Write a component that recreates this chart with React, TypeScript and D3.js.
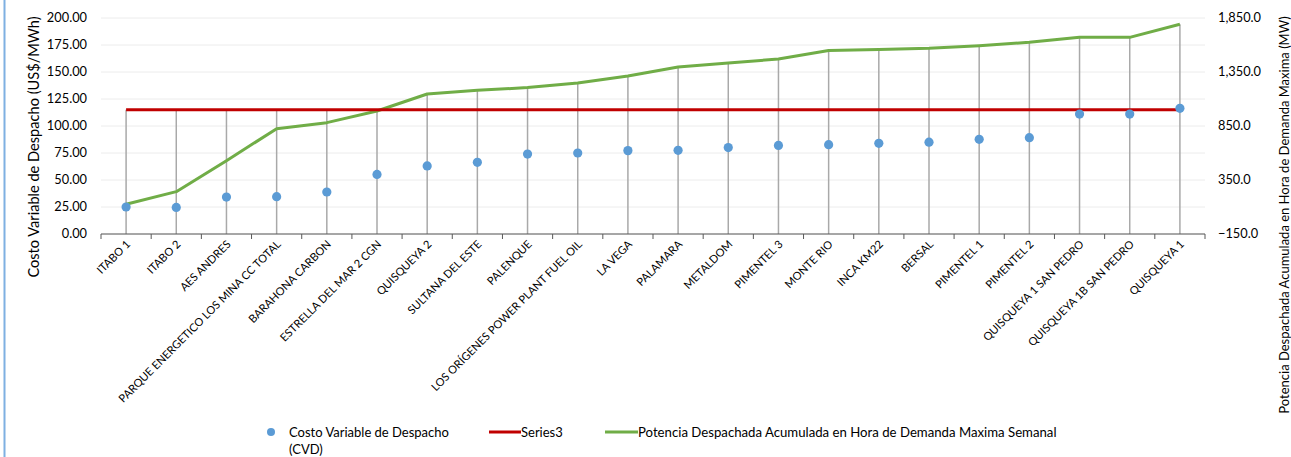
import React from "react";
import * as d3 from "d3";

const categories = [
  "ITABO 1", "ITABO 2", "AES ANDRES", "PARQUE ENERGETICO LOS MINA CC TOTAL",
  "BARAHONA CARBON", "ESTRELLA DEL MAR 2 CGN", "QUISQUEYA 2", "SULTANA DEL ESTE",
  "PALENQUE", "LOS ORÍGENES POWER PLANT FUEL OIL", "LA VEGA", "PALAMARA",
  "METALDOM", "PIMENTEL 3", "MONTE RIO", "INCA KM22", "BERSAL", "PIMENTEL 1",
  "PIMENTEL 2", "QUISQUEYA 1 SAN PEDRO", "QUISQUEYA 1B SAN PEDRO", "QUISQUEYA 1",
];
const cvd = [25, 24.6, 34.2, 34.6, 38.9, 55.2, 63, 66.4, 74, 75, 77.2, 77.5, 80, 82, 82.7, 84, 85, 87.7, 89.2, 111, 111, 116.4];
const series3 = categories.map(() => 115);
const potencia = [125, 242, 529, 825, 881, 989, 1146, 1180, 1206, 1248, 1313, 1396, 1433, 1470, 1549, 1558, 1569, 1593, 1625, 1671, 1671, 1792];
const leftTicks = [0, 25, 50, 75, 100, 125, 150, 175, 200];
const rightTicks = [-150, 350, 850, 1350, 1850];

const W = 1291, H = 457;
const font = "Lato, 'Open Sans', sans-serif";

export default function App() {
  const x = d3.scaleBand().domain(categories).range([101, 1205]).padding(0);
  const yL = d3.scaleLinear().domain([0, 200]).range([234, 18]);
  const yR = d3.scaleLinear().domain([-150, 1850]).range([234, 18]);
  const cx = (c: string) => (x(c) as number) + x.bandwidth() / 2;
  const fmtL = d3.format(".2f");
  const fmtR = d3.format(",.1f");
  const greenLine = d3.line<number>().x((_, i) => cx(categories[i])).y((d) => yR(d));
  const redLine = d3.line<number>().x((_, i) => cx(categories[i])).y((d) => yL(d));

  return (
    <div style={{ position: "absolute", left: 0, top: 0, width: W, height: H, background: "#fff" }}>
      <svg width={W} height={H} style={{ display: "block" }} fontFamily={font}>
        <rect x={0} y={0} width={W} height={H} fill="#fff" />
        <line x1={4.5} x2={4.5} y1={0} y2={H} stroke="#7eb0e2" strokeWidth={2} />
        {/* gridlines */}
        {leftTicks.map((t) => (
          <line key={t} x1={101} x2={1205} y1={yL(t)} y2={yL(t)} stroke="#ececec" strokeWidth={1} />
        ))}
        {/* drop lines */}
        {categories.map((c, i) => {
          const top = Math.min(yL(series3[i]), yR(potencia[i]), yL(cvd[i]));
          return <line key={c} x1={cx(c)} x2={cx(c)} y1={yL(0)} y2={top} stroke="#a9a9a9" strokeWidth={1.5} />;
        })}
        {/* x axis */}
        <line x1={101} x2={1205} y1={yL(0)} y2={yL(0)} stroke="#595959" strokeWidth={1.2} />
        {categories.map((c) => (
          <line key={c} x1={x(c) as number} x2={x(c) as number} y1={yL(0)} y2={yL(0) + 5} stroke="#595959" strokeWidth={1} />
        ))}
        <line x1={1205} x2={1205} y1={yL(0)} y2={yL(0) + 5} stroke="#595959" strokeWidth={1} />
        {/* series */}
        <path d={greenLine(potencia) as string} fill="none" stroke="#70ad47" strokeWidth={3} strokeLinejoin="round" />
        <path d={redLine(series3) as string} fill="none" stroke="#c00000" strokeWidth={3} />
        {categories.map((c, i) => (
          <circle key={c} cx={cx(c)} cy={yL(cvd[i])} r={4.6} fill="#5b9bd5" />
        ))}
        {/* left ticks */}
        {leftTicks.map((t) => (
          <text key={t} x={87} y={yL(t)} dy="0.35em" textAnchor="end" fontSize={12.8} fill="#000">{fmtL(t)}</text>
        ))}
        {rightTicks.map((t) => (
          <text key={t} x={1218} y={yR(t)} dy="0.35em" textAnchor="start" fontSize={12.8} fill="#000">{fmtR(t)}</text>
        ))}
        {/* x labels */}
        {categories.map((c) => (
          <text key={c} transform={`translate(${cx(c) + 5},${yL(0) + 11}) rotate(-45)`} textAnchor="end" fontSize={11.1} fill="#000">{c}</text>
        ))}
        {/* axis titles */}
        <text transform={`translate(39,147) rotate(-90)`} textAnchor="middle" fontSize={14.6} fill="#000">Costo Variable de Despacho (US$/MWh)</text>
        <text transform={`translate(1289,215) rotate(-90)`} textAnchor="middle" fontSize={13} fill="#000">Potencia Despachada Acumulada en Hora de Demanda Maxima (MW)</text>
        {/* legend */}
        <circle cx={271} cy={432} r={4} fill="#5b9bd5" />
        <text x={289} y={436.5} fontSize={13} fill="#000">Costo Variable de Despacho</text>
        <text x={289} y={454} fontSize={13} fill="#000">(CVD)</text>
        <line x1={489} x2={521} y1={432} y2={432} stroke="#c00000" strokeWidth={3} />
        <text x={521} y={436.5} fontSize={13} fill="#000">Series3</text>
        <line x1={605} x2={638} y1={432} y2={432} stroke="#70ad47" strokeWidth={3} />
        <text x={638} y={436.5} fontSize={13.2} fill="#000">Potencia Despachada Acumulada en Hora de Demanda Maxima Semanal</text>
      </svg>
    </div>
  );
}
